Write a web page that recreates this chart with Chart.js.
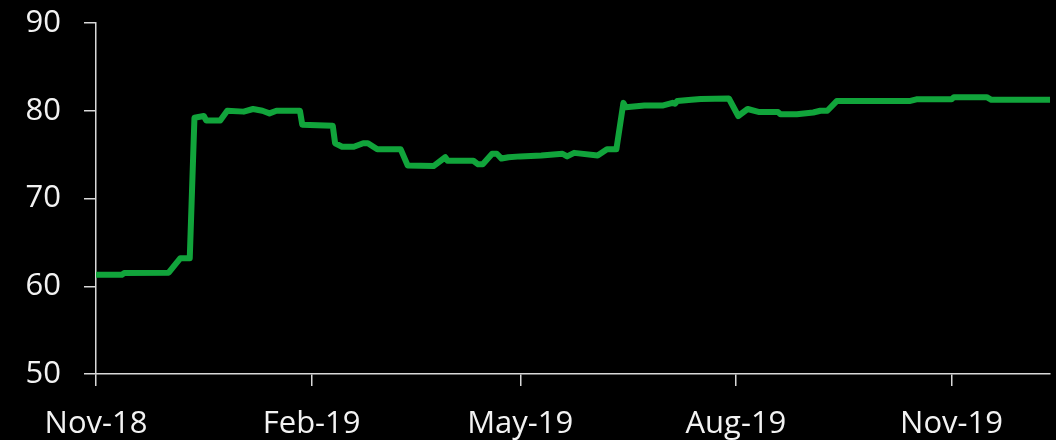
<!DOCTYPE html>
<html>
<head>
<meta charset="utf-8">
<title>Index</title>
<script src="https://cdn.jsdelivr.net/npm/chart.js@4.4.0/dist/chart.umd.min.js"></script>
<style>
  html, body { margin: 0; padding: 0; background: #000; }
  canvas { display: block; }
</style>
</head>
<body>
<canvas id="chart" width="1056" height="440"></canvas>
<script>
// days counted from 1 Nov 2018
const dayOffsets = [0, 11, 12, 31, 36, 40, 42, 46, 47, 53, 56, 63, 67, 71, 74, 77, 87, 88,
  101, 102, 105, 110, 114, 116, 120, 130, 133, 144, 149, 150, 161, 163, 165, 169, 171, 173,
  176, 181, 190, 199, 201, 204, 214, 218, 222, 225, 226, 234, 242, 246, 247, 248, 254, 258,
  270, 274, 278, 283, 291, 292, 299, 306, 309, 312, 316, 347, 350, 365, 366, 380, 382, 407];
const indexValues = [61.3, 61.3, 61.5, 61.55, 63.2, 63.2, 79.2, 79.4, 78.9, 78.9, 80.0, 79.9, 80.2, 80.0, 79.7, 80.0, 80.0, 78.4,
  78.3, 76.3, 75.9, 75.9, 76.3, 76.3, 75.6, 75.6, 73.75, 73.7, 74.7, 74.3, 74.3, 73.9, 73.9, 75.1, 75.1, 74.55,
  74.7, 74.8, 74.9, 75.1, 74.8, 75.2, 74.9, 75.6, 75.6, 80.9, 80.4, 80.6, 80.6, 80.9, 80.8, 81.1, 81.25, 81.35,
  81.4, 79.4, 80.2, 79.85, 79.85, 79.6, 79.6, 79.8, 80.0, 80.0, 81.1, 81.1, 81.3, 81.3, 81.55, 81.55, 81.25, 81.25];

// month starts shown on the x axis
const tickDays = [0, 92, 181, 273, 365];
const tickLabels = ['Nov-18', 'Feb-19', 'May-19', 'Aug-19', 'Nov-19'];

const axisColor = '#d9d9d9';
const textColor = '#f2f2f2';
const labelFont = { family: "'Open Sans', sans-serif", size: 31 };

const points = dayOffsets.map((d, i) => ({ x: d, y: indexValues[i] }));

new Chart(document.getElementById('chart'), {
  type: 'line',
  data: {
    datasets: [{
      data: points,
      borderColor: '#11a43b',
      borderWidth: 6,
      pointRadius: 0,
      tension: 0,
      borderJoinStyle: 'round',
      borderCapStyle: 'round'
    }]
  },
  options: {
    responsive: false,
    animation: false,
    layout: { padding: { top: 23, right: 6, left: 0, bottom: 0 } },
    plugins: { legend: { display: false }, tooltip: { enabled: false } },
    scales: {
      x: {
        type: 'linear',
        min: 0,
        max: 407,
        afterBuildTicks: scale => { scale.ticks = tickDays.map(v => ({ value: v })); },
        afterFit: scale => {
          scale.height = 66;
          scale.paddingLeft = 0;
          scale.paddingRight = 0;
        },
        ticks: {
          autoSkip: false,
          maxRotation: 0,
          color: textColor,
          font: labelFont,
          padding: 20,
          callback: value => tickLabels[tickDays.indexOf(value)]
        },
        grid: { drawOnChartArea: false, drawTicks: true, tickLength: 12, color: axisColor, lineWidth: 1.5 },
        border: { display: true, color: axisColor, width: 1.5 }
      },
      y: {
        min: 50,
        max: 90,
        afterFit: scale => {
          scale.width = 96;
          scale.paddingTop = 0;
          scale.paddingBottom = 0;
        },
        ticks: { stepSize: 10, color: textColor, font: labelFont, padding: 23 },
        grid: { drawOnChartArea: false, drawTicks: true, tickLength: 12, color: axisColor, lineWidth: 1.5 },
        border: { display: true, color: axisColor, width: 1.5 }
      }
    }
  }
});
</script>
</body>
</html>
